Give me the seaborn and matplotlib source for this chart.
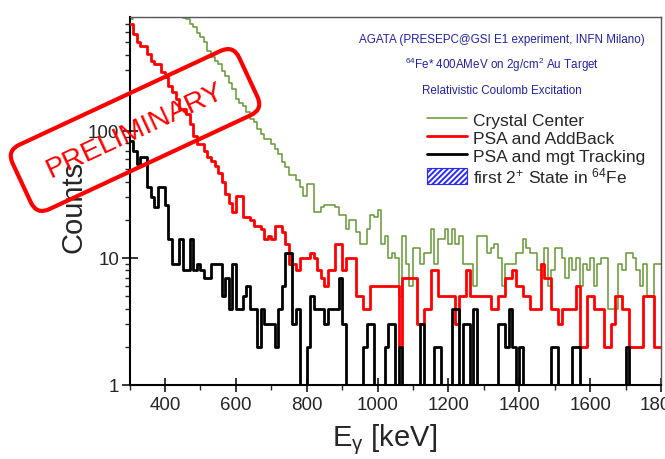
import numpy as np
import pandas as pd
import seaborn as sns
import matplotlib.pyplot as plt
import matplotlib.transforms as mtransforms
from matplotlib.patches import FancyBboxPatch, Patch
from matplotlib.lines import Line2D
from matplotlib.ticker import LogLocator, NullFormatter, MultipleLocator, FixedLocator

# 10 keV bins from 300 to 1800 keV
bin_edges = np.arange(300, 1801, 10)

crystal_center = [
    760, 1500, 1400, 1350, 1300, 1250, 1200, 1150, 1100, 1050,
    1000, 950, 900, 860, 820, 770, 760, 700, 655, 595,
    545, 500, 427, 380, 355, 335, 298, 271, 240, 214,
    178, 167, 158, 140, 124, 117, 104, 95, 87, 87,
    79, 72, 66, 57, 52, 45, 45, 41, 36, 31,
    38, 38, 23, 23, 25, 26, 26, 26, 25, 22,
    22, 17, 20, 20, 16, 13, 13, 17, 22, 21,
    24, 13, 15, 10, 11, 10, 5, 15, 9, 6,
    12, 12, 9, 11, 11, 17, 9, 14, 14, 17,
    13, 17, 13, 15, 9, 9, 9, 6, 15, 15,
    15, 11, 12, 13, 10, 6, 9, 9, 9, 11,
    11, 14, 12, 11, 11, 8, 9, 12, 6, 8,
    12, 12, 10, 7, 10, 8, 10, 6, 9, 8,
    10, 6, 9, 10, 10, 4, 4, 4, 9, 8,
    11, 11, 10, 8, 6, 9, 5, 5, 9, 9,
]

psa_addback = [
    700, 580, 500, 470, 470, 405, 355, 335, 335, 290,
    265, 227, 203, 178, 149, 149, 136, 113, 92, 79,
    79, 70, 62, 58, 53, 47, 40, 32, 27, 23,
    31, 31, 21, 21, 20, 18, 18, 17, 14, 15,
    14, 18, 18, 16, 13, 9, 9, 8, 10, 10,
    10, 11, 10, 8, 7, 6, 8, 8, 13, 13,
    8, 10, 10, 10, 5, 5, 4, 4, 6, 6,
    6, 6, 6, 6, 6, 6, 2, 7, 7, 7,
    7, 3, 3, 4, 4, 8, 8, 5, 5, 5,
    5, 5, 3, 5, 5, 8, 5, 5, 5, 5,
    5, 5, 4, 4, 5, 5, 7, 7, 8, 6,
    6, 5, 5, 4, 4, 4, 9, 7, 7, 4,
    4, 3, 4, 4, 4, 4, 6, 2, 2, 5,
    5, 4, 4, 4, 2, 2, 3, 5, 5, 4,
    4, 2, 2, 2, 2, 5, 5, 5, 2, 2,
]

psa_tracking = [
    84, 70, 55, 62, 62, 36, 30, 25, 36, 36,
    26, 14, 9, 9, 14, 8, 8, 14, 8, 9,
    8, 7, 7, 9, 9, 9, 5, 7, 4, 9,
    4, 4, 5, 6, 4, 4, 2, 4, 3, 3,
    3, 2, 4, 6, 11, 11, 3, 4, 0, 1,
    2, 5, 4, 4, 4, 3, 4, 4, 4, 7,
    3, 1, 1, 0, 1, 0, 2, 3, 3, 1,
    1, 0, 2, 3, 3, 0, 2, 0, 1, 1,
    0, 1, 3, 1, 1, 1, 2, 2, 1, 1,
    1, 4, 4, 1, 3, 3, 1, 4, 1, 1,
    0, 1, 1, 1, 3, 3, 2, 4, 2, 1,
    2, 0, 1, 1, 0, 1, 1, 1, 1, 2,
    2, 1, 0, 1, 1, 2, 2, 1, 1, 0,
    1, 1, 0, 1, 1, 1, 1, 1, 1, 1,
    2, 1, 1, 1, 1, 0, 1, 1, 0, 1,
]

series_names = ['Crystal Center', 'PSA and AddBack', 'PSA and mgt Tracking']
series_colors = ['#669933', '#ff0000', '#000000']
series_widths = [1.1, 2.0, 2.0]

sns.set_style('ticks')
plt.rcParams['font.family'] = ['Liberation Sans', 'DejaVu Sans']
plt.rcParams['mathtext.fontset'] = 'custom'
plt.rcParams['mathtext.rm'] = 'Liberation Sans'
plt.rcParams['mathtext.it'] = 'Liberation Sans:italic'
plt.rcParams['hatch.linewidth'] = 1.4

W, H = 665, 460
fig = plt.figure(figsize=(W / 100, H / 100), dpi=100)
ax = fig.add_axes([129.5 / W, 1 - 386 / H, 531.5 / W, 368 / H])

for i, (name, vals) in enumerate(zip(series_names, [crystal_center, psa_addback, psa_tracking])):
    vals = np.array(vals, dtype=float)
    vals = np.where(vals > 0, vals, 0.1)  # empty bins drawn down to the axis
    df = pd.DataFrame({'E': bin_edges, 'counts': np.append(vals, vals[-1])})
    sns.lineplot(data=df, x='E', y='counts', drawstyle='steps-post',
                 color=series_colors[i], linewidth=series_widths[i],
                 ax=ax, zorder=2 + i)

ax.set_yscale('log')
ax.set_xlim(300, 1800)
ax.set_ylim(1, 790)

ax.xaxis.set_major_locator(FixedLocator(np.arange(400, 1801, 200)))
ax.xaxis.set_minor_locator(MultipleLocator(100))
ax.yaxis.set_major_locator(FixedLocator([1, 10, 100]))
ax.set_yticklabels(['1', '10', '100'])
ax.yaxis.set_minor_locator(LogLocator(base=10, subs=np.arange(2, 10)))
ax.yaxis.set_minor_formatter(NullFormatter())

ax.tick_params(axis='both', which='major', direction='inout', width=1.1,
               labelsize=13.5, color='black')
ax.tick_params(axis='y', which='major', length=11, pad=2)
ax.tick_params(axis='x', which='major', length=9.5, pad=3)
ax.tick_params(axis='both', which='minor', direction='out', length=3.8, width=1.0)

for side in ['left', 'bottom']:
    ax.spines[side].set_linewidth(1.5)
    ax.spines[side].set_color('black')
for side in ['top', 'right']:
    ax.spines[side].set_linewidth(1.0)
    ax.spines[side].set_color('#555555')

ax.set_xlabel(r'E$_{\mathrm{\gamma}}$ [keV]', fontsize=21)
ax.xaxis.label.set_va('center')
ax.xaxis.set_label_coords(0.48, -0.147)
ax.set_ylabel('Counts', fontsize=21)
ax.yaxis.label.set_va('center')
ax.yaxis.set_label_coords(-0.106, 0.486)

blue = '#2222aa'
fig.text(502 / W, 1 - 40 / H, 'AGATA (PRESEPC@GSI E1 experiment, INFN Milano)',
         color=blue, fontsize=8.4, ha='center', va='center')
fig.text(502 / W, 1 - 65 / H, r'$^{64}$Fe* 400AMeV on 2g/cm$^{2}$ Au Target',
         color=blue, fontsize=8.4, ha='center', va='center')
fig.text(502 / W, 1 - 91 / H, 'Relativistic Coulomb Excitation',
         color=blue, fontsize=8.4, ha='center', va='center')

handles = [Line2D([], [], color=c, linewidth=w) for c, w in zip(series_colors, series_widths)]
handles.append(Patch(facecolor='white', edgecolor='#2a2aff', hatch='//////', linewidth=0.8))
labels = series_names + [r'first 2$^{+}$ State in $^{64}$Fe']
fig.legend(handles, labels, loc='upper left', bbox_to_anchor=(427 / W, 1 - 112 / H),
           frameon=False, fontsize=12.5, handlelength=2.3, handleheight=1.0,
           handletextpad=0.35, labelspacing=0.08, borderpad=0, borderaxespad=0)

# rotated PRELIMINARY stamp
cx, cy = 135, H - 131
bw, bh = 250, 71
rot = mtransforms.Affine2D().rotate_deg_around(cx, cy, 25)
stamp = FancyBboxPatch((cx - bw / 2, cy - bh / 2), bw, bh,
                       boxstyle='round,pad=0,rounding_size=14',
                       facecolor='none', edgecolor='#ff0000', linewidth=3.0,
                       transform=rot, zorder=10)
fig.add_artist(stamp)
fig.text(cx / W, cy / H, 'PRELIMINARY', rotation=25, rotation_mode='anchor',
         ha='center', va='center', color='#ff0000', fontsize=20.5, zorder=11)

fig.savefig('out.png', dpi=100)
